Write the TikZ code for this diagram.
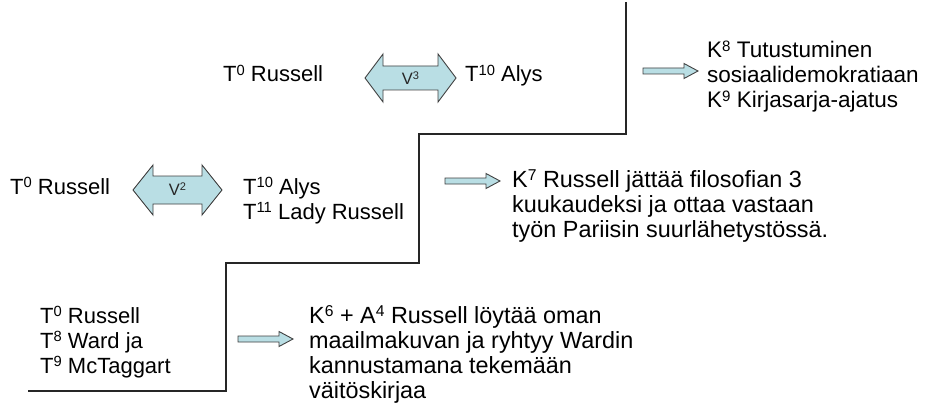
\documentclass[tikz,border=0pt]{standalone}
\usepackage{fontspec}
\setmainfont{Liberation Sans}
\definecolor{arrowfill}{RGB}{185,222,228}
\definecolor{arrowline}{RGB}{64,64,64}
\tikzset{
  blockarrow/.style={draw=arrowline, fill=arrowfill, line width=0.9pt, line join=miter},
  stepline/.style={draw=black!85, line width=1.4pt},
  ttxt/.style={anchor=base west, inner sep=0pt, align=left, font=\fontsize{22}{25}\selectfont},
  ktxt/.style={anchor=base west, inner sep=0pt, align=left, font=\fontsize{23.4}{25}\selectfont},
  vlabel/.style={inner sep=0pt, font=\fontsize{16.5}{20}\selectfont, text=black!85},
  rarrow/.pic={\draw[blockarrow] (0,-3) -- (41,-3) -- (41,-7.5) -- (55,0) -- (41,7.5) -- (41,3) -- (0,3) -- cycle;}
}
\newcommand{\sups}[1]{\raisebox{0.28em}{\scalebox{0.67}{#1}}}
\begin{document}
\begin{tikzpicture}[x=1pt,y=-1pt]
\useasboundingbox (0,0) rectangle (931,409);
% staircase line
\coordinate (s0) at (626,2);
\coordinate (s1) at (626,134);
\coordinate (s2) at (419,134);
\coordinate (s3) at (419,263);
\coordinate (s4) at (226,263);
\coordinate (s5) at (226,391);
\coordinate (s6) at (28,391);
\draw[stepline] (s0) -- (s1) -- (s2) -- (s3) -- (s4) -- (s5) -- (s6);
% top level (multi-line nodes are anchored at the baseline of their last line)
\node[ttxt] (t3a) at (223,82) {T\sups{0} Russell};
\draw[blockarrow] (365,78) -- ++(18,-24) -- ++(0,12) -- ++(55,0) -- ++(0,-12) -- ++(18,24) -- ++(-18,24) -- ++(0,-12) -- ++(-55,0) -- ++(0,12) -- cycle;
\node[vlabel] (v3) at (410.5,78) {V\sups{3}};
\node[ttxt] (t3b) at (465,82) {T\sups{10} Alys};
\pic at (643,71) {rarrow};
\node[ktxt, font=\fontsize{22.5}{25}\selectfont] (k8) at (707,107.5) {K\sups{8} Tutustuminen\\sosiaalidemokratiaan\\K\sups{9} Kirjasarja-ajatus};
% middle level
\node[ttxt] (t2a) at (10,194) {T\sups{0} Russell};
\draw[blockarrow] (133,190) -- ++(20,-25) -- ++(0,11) -- ++(49,0) -- ++(0,-11) -- ++(20,25) -- ++(-20,25) -- ++(0,-11) -- ++(-49,0) -- ++(0,11) -- cycle;
\node[vlabel] (v2) at (177.5,189) {V\sups{2}};
\node[ttxt] (t2b) at (243,219) {T\sups{10} Alys\\T\sups{11} Lady Russell};
\pic at (445,181) {rarrow};
\node[ktxt] (k7) at (512,237) {K\sups{7} Russell jättää filosofian 3\\kuukaudeksi ja ottaa vastaan\\työn Pariisin suurlähetystössä.};
% bottom level
\node[ttxt] (t1) at (40,373) {T\sups{0} Russell\\T\sups{8} Ward ja\\T\sups{9} McTaggart};
\pic at (238,339) {rarrow};
\node[ktxt] (k6) at (309,398) {K\sups{6} + A\sups{4} Russell löytää oman\\maailmakuvan ja ryhtyy Wardin\\kannustamana tekemään\\väitöskirjaa};
\end{tikzpicture}
\end{document}
